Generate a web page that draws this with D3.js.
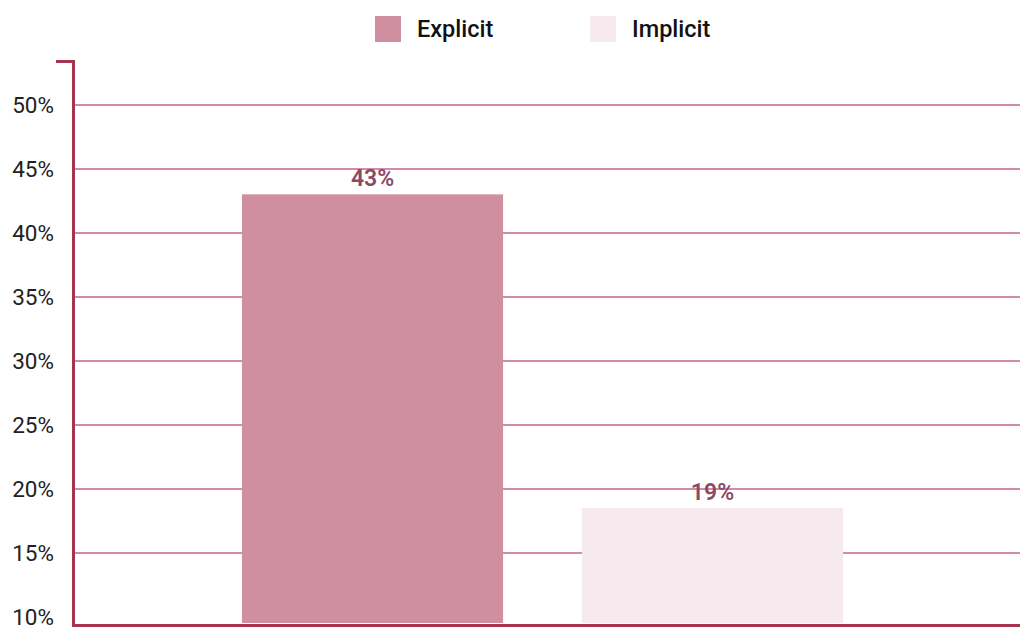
<!DOCTYPE html>
<meta charset="utf-8">
<style>
body { margin: 0; background: #fff; }
text { font-family: Roboto, "Noto Sans", sans-serif; }
.tick text { font-size: 22.5px; fill: #222; }
.bar-label { font-size: 23px; font-weight: 600; fill: #8b4a65; }
.legend text { font-size: 23.5px; font-weight: 500; fill: #111; }
</style>
<body>
<script src="https://d3js.org/d3.v7.min.js"></script>
<script>

var width = 1020,
    height = 639;

var series = ["Explicit", "Implicit"];
var values = [43, 18.5];
var labels = ["43%", "19%"];
var colors = ["#cf8fa0", "#f6eaef"];
var yTicks = [10, 15, 20, 25, 30, 35, 40, 45, 50];

var x0 = 74, x1 = 1011, yTop = 60, yBottom = 623;

var svg = d3.select("body").append("svg")
    .attr("width", width)
    .attr("height", height);

var x = d3.scaleBand()
    .domain(series)
    .range([x0, x1])
    .paddingInner(0.232)
    .paddingOuter(0.494);

var y = d3.scaleLinear()
    .domain([9.5, 53.5])
    .range([yBottom, yTop]);

// gridlines (no line at the bottom tick)
svg.append("g")
    .attr("class", "grid")
  .selectAll("line")
  .data(yTicks.filter(function(d) { return d > 10; }))
  .enter().append("line")
    .attr("x1", x0)
    .attr("x2", width)
    .attr("y1", function(d) { return Math.round(y(d)); })
    .attr("y2", function(d) { return Math.round(y(d)); })
    .attr("stroke", "#c4648a")
    .attr("stroke-width", 1.6);

// bars
svg.append("g").selectAll("rect")
  .data(series)
  .enter().append("rect")
    .attr("x", function(d) { return x(d); })
    .attr("y", function(d, i) { return y(values[i]); })
    .attr("width", x.bandwidth())
    .attr("height", function(d, i) { return yBottom - y(values[i]); })
    .attr("fill", function(d, i) { return colors[i]; });

svg.append("g").selectAll("text")
  .data(series)
  .enter().append("text")
    .attr("class", "bar-label")
    .attr("x", function(d) { return x(d) + x.bandwidth() / 2; })
    .attr("y", function(d, i) { return y(values[i]) - 8; })
    .attr("text-anchor", "middle")
    .text(function(d, i) { return labels[i]; });

// y axis
var yAxis = d3.axisLeft(y)
    .tickValues(yTicks)
    .tickSize(0)
    .tickPadding(20)
    .tickFormat(function(d) { return d + "%"; });

var ag = svg.append("g")
    .attr("transform", "translate(" + x0 + ",0)")
    .call(yAxis);
ag.select(".domain").remove();
ag.selectAll(".tick text").attr("dy", "0.35em");

// axis frame: left line with top tick, bottom line
svg.append("path")
    .attr("d", "M56," + (yTop + 1.5) + "H" + (x0 - 0.5) + "V" + (yBottom + 2.5) + "H" + width)
    .attr("fill", "none")
    .attr("stroke", "#a8344f")
    .attr("stroke-width", 3);

// legend
var legendX = [375, 590];
var lg = svg.append("g").attr("class", "legend")
  .selectAll("g")
  .data(series)
  .enter().append("g")
    .attr("transform", function(d, i) { return "translate(" + legendX[i] + ",16)"; });

lg.append("rect")
    .attr("width", 26)
    .attr("height", 26)
    .attr("fill", function(d, i) { return colors[i]; });

lg.append("text")
    .attr("x", 42)
    .attr("y", 13)
    .attr("dy", "0.35em")
    .text(function(d) { return d; });

</script>
